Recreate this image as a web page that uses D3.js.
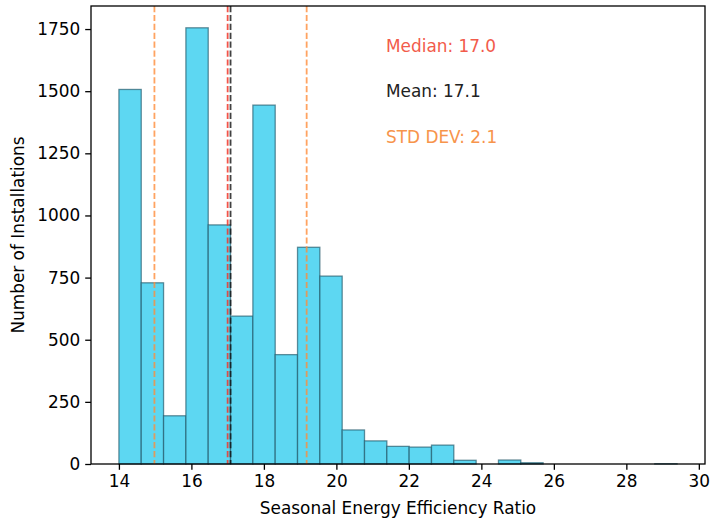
<!DOCTYPE html>
<html><head><meta charset="utf-8">
<script src="https://cdn.jsdelivr.net/npm/d3@7"></script>
<style>body{margin:0;background:#fff}svg{display:block}text{font-family:"DejaVu Sans",sans-serif}</style>
</head><body><svg id="c" width="711" height="521"></svg>
<script>
const binStarts = [14.0, 14.616, 15.232, 15.848, 16.464, 17.08, 17.696, 18.312, 18.928, 19.544, 20.16, 20.776, 21.392, 22.008, 22.624, 23.24, 23.856, 24.472, 25.088, 25.704, 26.32, 26.936, 27.552, 28.168, 28.784];
const binEnds = [14.616, 15.232, 15.848, 16.464, 17.08, 17.696, 18.312, 18.928, 19.544, 20.16, 20.776, 21.392, 22.008, 22.624, 23.24, 23.856, 24.472, 25.088, 25.704, 26.32, 26.936, 27.552, 28.168, 28.784, 29.4];
const counts = [1507, 729, 194, 1755, 962, 595, 1444, 440, 872, 756, 137, 93, 71, 68, 76, 15, 0, 16, 5, 0, 0, 0, 0, 0, 1];
const xTicks = [14, 16, 18, 20, 22, 24, 26, 28, 30];
const yTicks = [0, 250, 500, 750, 1000, 1250, 1500, 1750];
const median = 17.0, mean = 17.08, stdLow = 14.98, stdHigh = 19.18;
const labels = ["Median: 17.0", "Mean: 17.1", "STD DEV: 2.1"];

const svg = d3.select("#c");
const L = 91, R = 705, T = 6, B = 464;
const x = d3.scaleLinear().domain([13.23, 30.17]).range([L, R]);
const y = d3.scaleLinear().domain([0, 1842.75]).range([B, T]);
const FS = 16.9;

const bins = binStarts.map((s, i) => ({s, e: binEnds[i], c: counts[i]}));
svg.append("g").selectAll("rect").data(bins).join("rect")
  .attr("x", d => x(d.s)).attr("width", d => x(d.e) - x(d.s))
  .attr("y", d => y(d.c)).attr("height", d => y(0) - y(d.c))
  .attr("fill", "#5dd7f2")
  .attr("stroke", "#1f5566").attr("stroke-opacity", 0.65).attr("stroke-width", 1.3);

function vline(v, color, op) {
  svg.append("line").attr("x1", x(v)).attr("x2", x(v)).attr("y1", T).attr("y2", B)
    .attr("stroke", color).attr("stroke-opacity", op).attr("stroke-width", 1.8)
    .attr("stroke-dasharray", "6.2,2.7");
}
vline(stdLow, "#ff8c3a", 0.8);
vline(stdHigh, "#ff8c3a", 0.8);
vline(median, "#f0362a", 0.85);
vline(mean, "#111111", 0.8);

const gx = svg.append("g").attr("transform", `translate(0,${B})`)
  .call(d3.axisBottom(x).tickValues(xTicks).tickFormat(d3.format("d")).tickSize(5.8).tickPadding(5));
const gy = svg.append("g").attr("transform", `translate(${L},0)`)
  .call(d3.axisLeft(y).tickValues(yTicks).tickFormat(d3.format("d")).tickSize(5.8).tickPadding(5));
[gx, gy].forEach(g => {
  g.select(".domain").remove();
  g.selectAll("line").attr("stroke", "#000").attr("stroke-width", 1.3);
  g.selectAll("text").attr("font-size", FS).attr("fill", "#000").attr("font-family", "DejaVu Sans");
});
svg.append("rect").attr("x", L).attr("y", T).attr("width", R - L).attr("height", B - T)
  .attr("fill", "none").attr("stroke", "#000").attr("stroke-width", 1.3);

svg.append("text").attr("x", (L + R) / 2).attr("y", 514).attr("text-anchor", "middle")
  .attr("font-size", FS).text("Seasonal Energy Efficiency Ratio");
svg.append("text").attr("transform", `translate(24,${(T + B) / 2}) rotate(-90)`).attr("text-anchor", "middle")
  .attr("font-size", FS).text("Number of Installations");

const tcol = ["#f25b4b", "#222222", "#f7944b"];
const ty = [52, 97, 143];
labels.forEach((t, i) => {
  svg.append("text").attr("x", 386).attr("y", ty[i]).attr("font-size", FS).attr("fill", tcol[i]).text(t);
});
</script></body></html>
